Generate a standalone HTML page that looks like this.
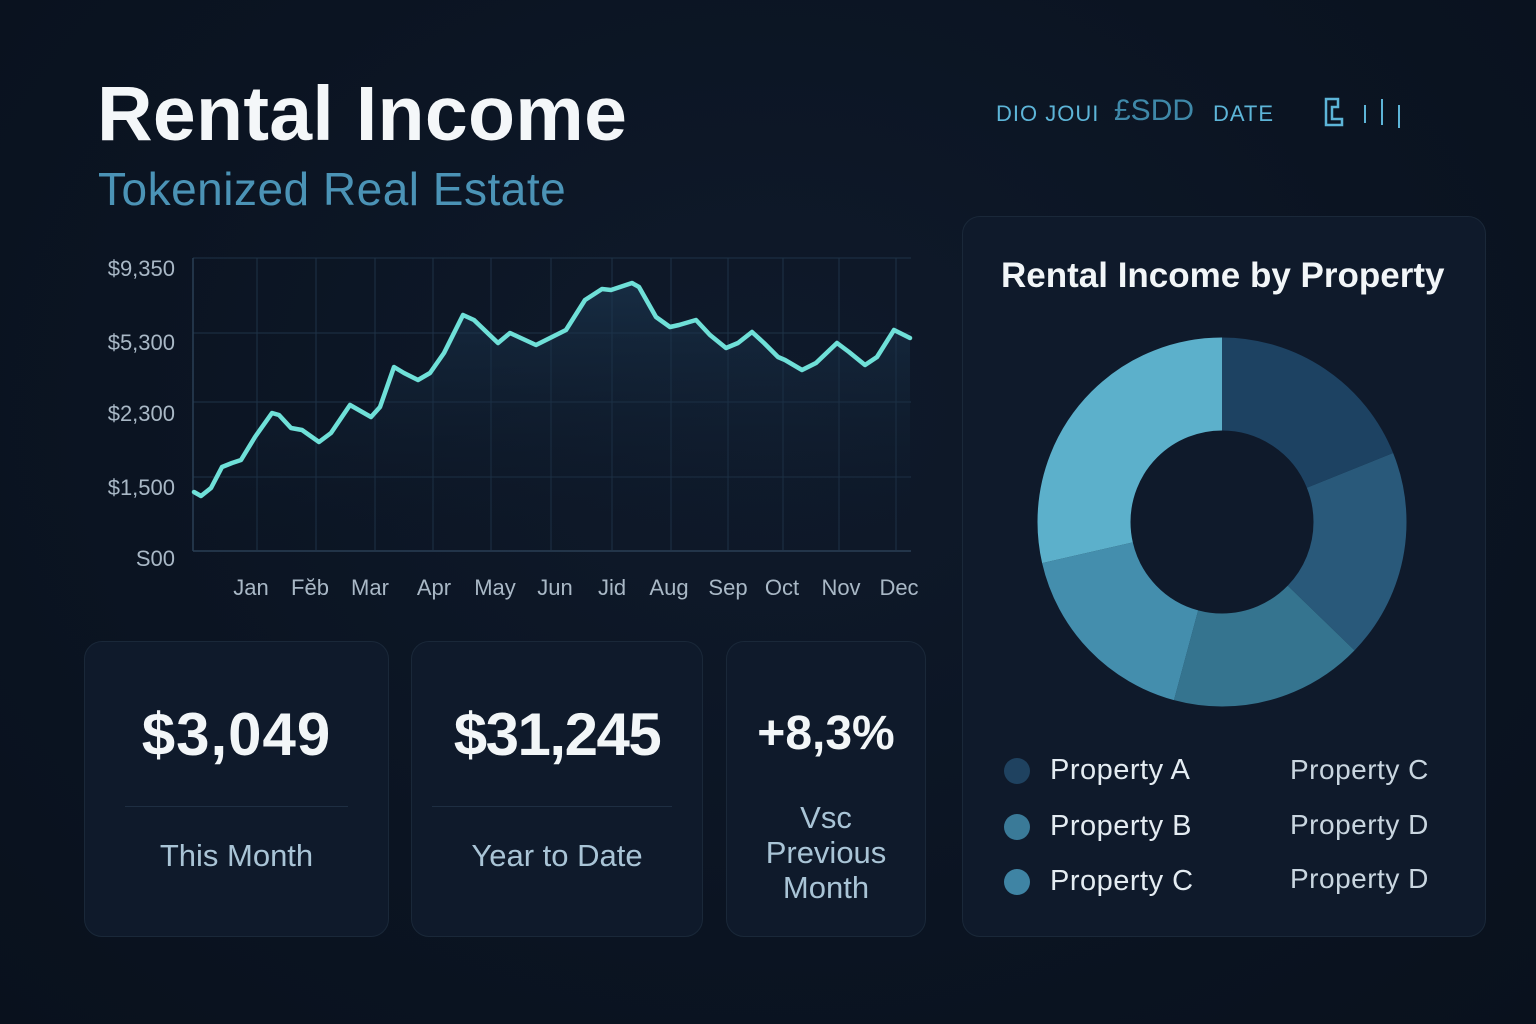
<!DOCTYPE html>
<html><head><meta charset="utf-8"><style>
*{margin:0;padding:0;box-sizing:border-box}
body{width:1536px;height:1024px;overflow:hidden;background:radial-gradient(ellipse at 50% 40%,#0f1a2b 0%,#0b1422 60%,#09111d 100%);font-family:"Liberation Sans","DejaVu Sans",sans-serif;position:relative;color:#fff}
.abs{position:absolute}
.card{position:absolute;background:#0f1a2b;border:1px solid #1a2839;border-radius:18px}
.big{position:absolute;width:100%;text-align:center;font-weight:bold;color:#f2f6f8;font-size:60px;letter-spacing:-1px}
.lab{position:absolute;width:100%;text-align:center;color:#a9c4d6;font-size:31px}
.ax{fill:#a9b8c6;font-size:22px;font-family:"Liberation Sans",sans-serif}
.leg{position:absolute;font-size:29px;color:#e4ecf2;letter-spacing:0.5px}
.dot{position:absolute;width:26px;height:26px;border-radius:50%}
</style></head><body>
<div class="abs" style="left:97px;top:70px;font-size:77px;font-weight:bold;color:#f4f7f9;letter-spacing:0.3px">Rental Income</div>
<div class="abs" style="left:98px;top:162px;font-size:46px;color:#4b93b6;letter-spacing:0.5px">Tokenized Real Estate</div>
<div class="abs" style="left:996px;top:101px;font-size:22px;color:#5db5d8;letter-spacing:1px">DIO JOUI</div>
<div class="abs" style="left:1114px;top:94px;font-size:30px;color:#3f88a8">£SDD</div>
<div class="abs" style="left:1213px;top:101px;font-size:22px;color:#5db5d8;letter-spacing:1px">DATE</div>
<svg class="abs" style="left:1320px;top:95px" width="90" height="35"><path d="M6 4h12v8h-6v12h10v6H6z" fill="none" stroke="#5db5d8" stroke-width="2.5"/><line x1="45" y1="10" x2="45" y2="28" stroke="#5db5d8" stroke-width="2"/><line x1="62" y1="4" x2="62" y2="30" stroke="#5db5d8" stroke-width="2"/><line x1="79" y1="10" x2="79" y2="33" stroke="#5db5d8" stroke-width="2"/></svg>

<svg class="abs" style="left:0;top:0" width="940" height="620">
<defs><linearGradient id="f" x1="0" y1="0" x2="0" y2="1"><stop offset="0" stop-color="#1d3a55" stop-opacity="0.6"/><stop offset="1" stop-color="#0c1624" stop-opacity="0"/></linearGradient></defs>
<g stroke="#1e3247" stroke-width="1">
<line x1="193" y1="258" x2="911" y2="258"/><line x1="193" y1="333" x2="911" y2="333"/><line x1="193" y1="402" x2="911" y2="402"/><line x1="193" y1="477" x2="911" y2="477"/>
<line x1="257" y1="258" x2="257" y2="550"/><line x1="316" y1="258" x2="316" y2="550"/><line x1="375" y1="258" x2="375" y2="550"/><line x1="433" y1="258" x2="433" y2="550"/><line x1="491" y1="258" x2="491" y2="550"/><line x1="551" y1="258" x2="551" y2="550"/><line x1="612" y1="258" x2="612" y2="550"/><line x1="671" y1="258" x2="671" y2="550"/><line x1="728" y1="258" x2="728" y2="550"/><line x1="783" y1="258" x2="783" y2="550"/><line x1="839" y1="258" x2="839" y2="550"/><line x1="896" y1="258" x2="896" y2="550"/>
</g>
<line x1="193" y1="258" x2="193" y2="551" stroke="#2a3f55" stroke-width="1.5"/><line x1="193" y1="551" x2="911" y2="551" stroke="#2a3f55" stroke-width="1.5"/>
<polygon fill="url(#f)" points="194,492 201,496 211,488 222,467 232,463 241,460 255,437 272,413 279,415 291,428 302,430 319,442 331,433 350,405 371,417 380,407 394,367 404,373 418,380 430,373 444,353 463,315 474,320 498,343 510,333 536,345 552,337 566,330 585,300 602,289 611,290 632,283 639,287 656,317 670,327 679,325 696,320 710,335 726,348 738,343 752,332 764,343 778,357 785,360 802,370 816,363 837,343 849,352 865,365 877,357 894,330 910,338 910,550 194,550"/>
<polyline fill="none" stroke="#6fe0d8" stroke-width="4.5" stroke-linejoin="round" stroke-linecap="round" points="194,492 201,496 211,488 222,467 232,463 241,460 255,437 272,413 279,415 291,428 302,430 319,442 331,433 350,405 371,417 380,407 394,367 404,373 418,380 430,373 444,353 463,315 474,320 498,343 510,333 536,345 552,337 566,330 585,300 602,289 611,290 632,283 639,287 656,317 670,327 679,325 696,320 710,335 726,348 738,343 752,332 764,343 778,357 785,360 802,370 816,363 837,343 849,352 865,365 877,357 894,330 910,338"/>
<g class="ax" text-anchor="end"><text x="175" y="276">$9,350</text><text x="175" y="350">$5,300</text><text x="175" y="421">$2,300</text><text x="175" y="495">$1,500</text><text x="175" y="566">S00</text></g>
<g class="ax" text-anchor="middle"><text x="251" y="595">Jan</text><text x="310" y="595">Fĕb</text><text x="370" y="595">Mar</text><text x="434" y="595">Apr</text><text x="495" y="595">May</text><text x="555" y="595">Jun</text><text x="612" y="595">Jid</text><text x="669" y="595">Aug</text><text x="728" y="595">Sep</text><text x="782" y="595">Oct</text><text x="841" y="595">Nov</text><text x="899" y="595">Dec</text></g>
</svg>

<div class="card" style="left:84px;top:641px;width:305px;height:296px"><div class="big" style="top:58px;letter-spacing:1px">$3,049</div><div style="position:absolute;left:40px;right:40px;top:164px;height:1px;background:#1e2e42"></div><div class="lab" style="top:196px">This Month</div></div>
<div class="card" style="left:411px;top:641px;width:292px;height:296px"><div class="big" style="top:58px;letter-spacing:-1.5px">$31,245</div><div style="position:absolute;left:20px;right:30px;top:164px;height:1px;background:#1e2e42"></div><div class="lab" style="top:196px">Year to Date</div></div>
<div class="card" style="left:726px;top:641px;width:200px;height:296px"><div class="big" style="top:64px;font-size:48px;letter-spacing:0">+8,3%</div><div class="lab" style="top:158px;line-height:35px">Vsc<br>Previous<br>Month</div></div>

<div class="card" style="left:962px;top:216px;width:524px;height:721px"></div>
<div class="abs" style="left:1001px;top:256px;font-size:35px;font-weight:bold;color:#f2f6f8">Rental Income by Property</div>
<svg class="abs" style="left:1022px;top:322px" width="400" height="400">
<g transform="rotate(-90 200 200)" fill="none" stroke-width="93">
<circle cx="200" cy="200" r="138" stroke="#1d4262" stroke-dasharray="163.8 1000" stroke-dashoffset="0"/>
<circle cx="200" cy="200" r="138" stroke="#29597a" stroke-dasharray="159 1000" stroke-dashoffset="-163.8"/>
<circle cx="200" cy="200" r="138" stroke="#35748f" stroke-dasharray="146.9 1000" stroke-dashoffset="-322.8"/>
<circle cx="200" cy="200" r="138" stroke="#448ead" stroke-dasharray="149.3 1000" stroke-dashoffset="-469.7"/>
<circle cx="200" cy="200" r="138" stroke="#5cb0cb" stroke-dasharray="248.1 1000" stroke-dashoffset="-619"/>
</g></svg>
<div class="dot" style="left:1004px;top:758px;background:#1f4260"></div>
<div class="dot" style="left:1004px;top:814px;background:#3a7a98"></div>
<div class="dot" style="left:1004px;top:869px;background:#3f84a4"></div>
<div class="leg" style="left:1050px;top:754px">Property A</div>
<div class="leg" style="left:1050px;top:810px">Property B</div>
<div class="leg" style="left:1050px;top:865px">Property C</div>
<div class="leg" style="left:1290px;top:754px;color:#c9d6e0;font-size:28px">Property C</div>
<div class="leg" style="left:1290px;top:809px;color:#c9d6e0;font-size:28px">Property D</div>
<div class="leg" style="left:1290px;top:863px;color:#c9d6e0;font-size:28px">Property D</div>
</body></html>
